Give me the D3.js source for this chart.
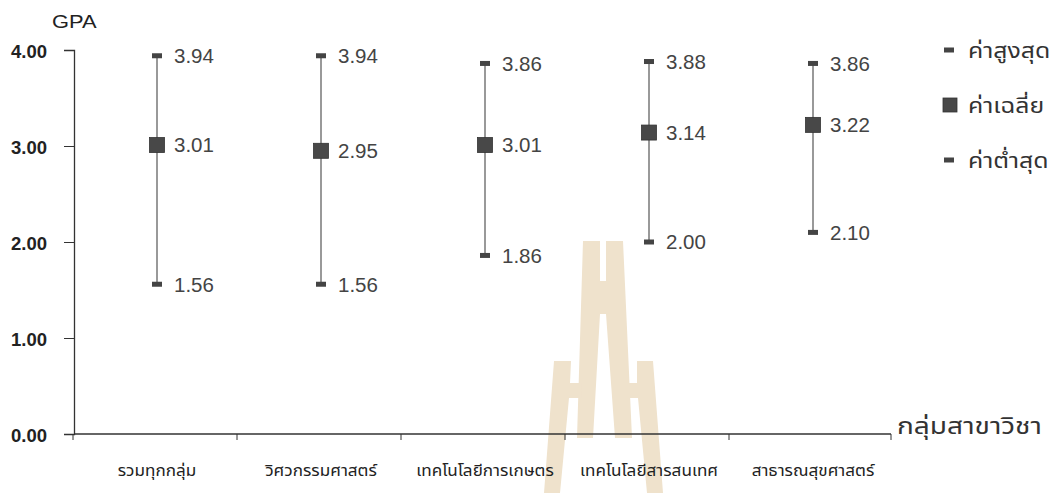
<!DOCTYPE html>
<html><head><meta charset="utf-8">
<script src="https://cdn.jsdelivr.net/npm/d3@7/dist/d3.min.js"></script>
<style>
body{margin:0;background:#fff;}
svg{display:block;font-family:"Liberation Sans",Arial,"DejaVu Sans",sans-serif;}
</style></head>
<body><svg id="c" width="1055" height="493"></svg>
<script>
const categories = ["รวมทุกกลุ่ม","วิศวกรรมศาสตร์","เทคโนโลยีการเกษตร","เทคโนโลยีสารสนเทศ","สาธารณสุขศาสตร์"];
const highValues = [3.94, 3.94, 3.86, 3.88, 3.86];
const meanValues = [3.01, 2.95, 3.01, 3.14, 3.22];
const lowValues  = [1.56, 1.56, 1.86, 2.00, 2.10];
const yTicks = [0, 1, 2, 3, 4];
const legendLabels = ["ค่าสูงสุด","ค่าเฉลี่ย","ค่าต่ำสุด"];
const yTitle = "GPA";
const xTitle = "กลุ่มสาขาวิชา";

const svg = d3.select("#c");
const thai = '"Noto Sans Thai","Noto Sans","DejaVu Sans",sans-serif';
function stretch(sel, f){ sel.each(function(){ const w=this.getComputedTextLength(); d3.select(this).attr("textLength",w*f).attr("lengthAdjust","spacingAndGlyphs"); }); }

// watermark (decorative, behind chart)
const wm = svg.append("g").attr("fill","#efe2cc");
wm.append("path").attr("d","M583,241 L600,241 L600,281 L606,281 L606,241 L623,241 L632,438 L615,438 L606,314 L600,314 L593,438 L577,438 Z");
wm.append("path").attr("d","M554,361 L571,361 L570,383 L582,383 L581,398 L569,398 L560,493 L544,493 Z");
wm.append("path").attr("d","M637,361 L653,361 L663,493 L647,493 L638,398 L626,398 L626,383 L637,383 Z");

const y = d3.scaleLinear().domain([0,4]).range([434,50]);
const x = d3.scaleBand().domain(categories).range([75,895]);

// y axis
const yAxis = svg.append("g").attr("transform","translate(74,0)")
  .call(d3.axisLeft(y).tickValues(yTicks).tickFormat(d3.format(".2f")).tickSize(10).tickPadding(17));
yAxis.select(".domain").attr("stroke","#333").attr("stroke-width",1.3);
yAxis.selectAll(".tick line").attr("stroke","#333");
yAxis.selectAll(".tick text").attr("fill","#222").attr("font-size",18.5).attr("font-weight","bold")
  .attr("dy","0.4em").attr("font-family","'Liberation Sans',Arial,sans-serif");

// x axis
const xa = svg.append("g").attr("transform","translate(0,434)");
xa.append("line").attr("x1",74).attr("x2",891).attr("stroke","#333").attr("stroke-width",1.3);
const bounds = categories.map(c => x(c)-2).concat([x(categories[categories.length-1]) + x.bandwidth() - 4]);
xa.selectAll("line.t").data(bounds).join("line").attr("class","t")
  .attr("x1",d=>d).attr("x2",d=>d).attr("y1",0).attr("y2",6).attr("stroke","#333");
xa.selectAll("text").data(categories).join("text")
  .attr("x",d=>x(d)+x.bandwidth()/2).attr("y",42).attr("text-anchor","middle")
  .attr("font-size",15).attr("fill","#222").attr("font-family",thai).text(d=>d)
  .call(stretch, 1.14);

// titles
svg.append("text").attr("x",52).attr("y",28).attr("font-size",19).attr("fill","#222").text(yTitle)
  .call(stretch, 1.15);
svg.append("text").attr("x",897).attr("y",434).attr("font-size",23).attr("fill","#333").attr("font-family",thai).text(xTitle)
  .call(stretch, 1.22);

// series
const data = categories.map((c,i)=>({c, hi:highValues[i], mean:meanValues[i], lo:lowValues[i]}));
const g = svg.append("g");
const cx = d => x(d.c)+x.bandwidth()/2;
g.selectAll("line.r").data(data).join("line").attr("class","r")
  .attr("x1",cx).attr("x2",cx).attr("y1",d=>y(d.hi)).attr("y2",d=>y(d.lo))
  .attr("stroke","#555").attr("stroke-width",1.2);
["hi","lo"].forEach(k=>{
  g.selectAll("rect."+k).data(data).join("rect").attr("class",k)
    .attr("x",d=>cx(d)-5).attr("y",d=>y(d[k])-2.5).attr("width",10).attr("height",5).attr("fill","#444");
});
g.selectAll("rect.m").data(data).join("rect").attr("class","m")
  .attr("x",d=>cx(d)-7.5).attr("y",d=>y(d.mean)-7.5).attr("width",15).attr("height",15)
  .attr("fill","#484848").attr("stroke","#333").attr("stroke-width",0.8);
["hi","mean","lo"].forEach(k=>{
  g.selectAll("text."+k).data(data).join("text").attr("class",k)
    .attr("x",d=>cx(d)+17).attr("y",d=>y(d[k])).attr("dy","0.36em")
    .attr("font-size",20.5).attr("fill","#444").text(d=>d[k].toFixed(2));
});

// legend
const lg = svg.append("g");
const ly = [50, 105, 160];
legendLabels.forEach((t,i)=>{
  if(i===1) lg.append("rect").attr("x",943).attr("y",ly[i]-7).attr("width",14).attr("height",14).attr("fill","#484848").attr("stroke","#333").attr("stroke-width",0.8);
  else lg.append("rect").attr("x",944).attr("y",ly[i]-2.5).attr("width",10).attr("height",5).attr("fill","#444");
  lg.append("text").attr("x",968).attr("y",ly[i]).attr("dy","0.36em").attr("font-size",21)
    .attr("fill","#333").attr("font-family",thai).text(t).call(stretch, 1.18);
});
</script></body></html>
